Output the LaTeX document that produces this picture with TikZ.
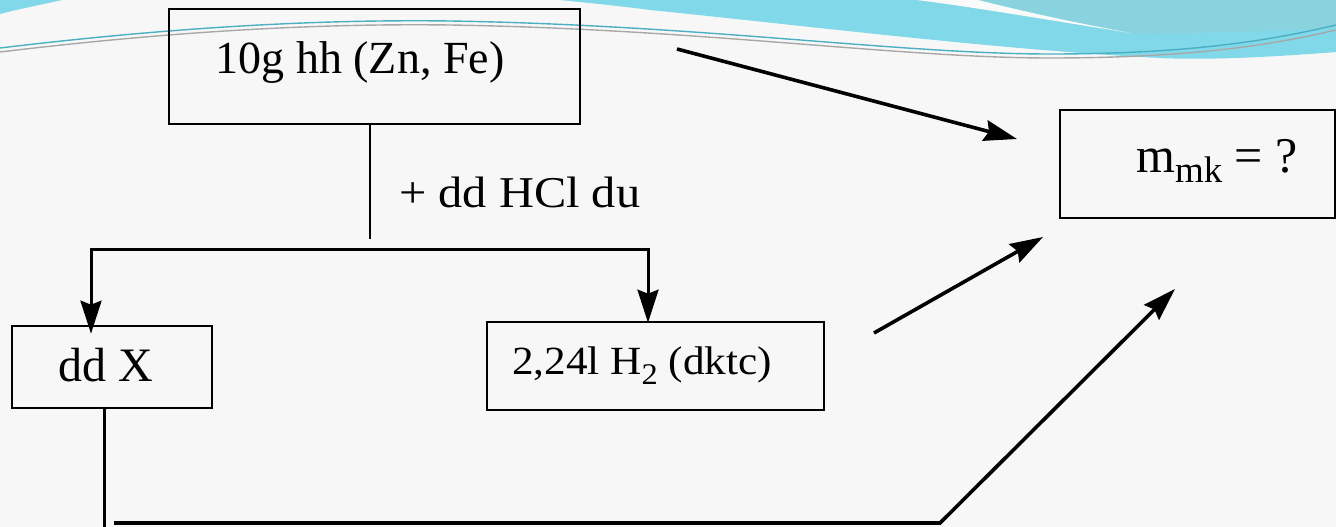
\documentclass[tikz,border=0pt]{standalone}
\usepackage{fontspec}
\setmainfont{Liberation Serif}
\usetikzlibrary{arrows.meta,calc}
\definecolor{bgc}{HTML}{F7F7F7}
\definecolor{cyanA}{HTML}{80D8E8}
\definecolor{cyanB}{HTML}{88D3DE}
\definecolor{tealline}{HTML}{4AAFC2}
\definecolor{greyline}{HTML}{A8A8A8}
\tikzset{
  box/.style={draw=black, line width=2.6pt, inner sep=0pt, fill=none},
  lbl/.style={inner sep=0pt, text=black},
  tipA/.tip={Stealth[length=33pt,width=21pt,inset=4pt]},
  arr/.style={line width=3.6pt, -tipA},
  barline/.style={line width=3pt},
}
\begin{document}
\begin{tikzpicture}[x=1pt,y=-1pt]
\useasboundingbox (0,0) rectangle (1336,527);
\fill[bgc] (0,0) rectangle (1336,527);
% decorative swoosh at the top
\fill[cyanA] (0,0) -- (62,0) .. controls (35,6) and (15,10) .. (0,14) -- cycle;
\fill[cyanA] (560,0) -- (1336,0) -- (1336,52) .. controls (1260,58) and (1200,60) .. (1160,58)
  .. controls (1000,50) and (800,25) .. (650,10) .. controls (620,6) and (590,3) .. (560,0) -- cycle;
\fill[cyanB] (978,0) -- (1336,0) -- (1336,28) .. controls (1250,32) and (1180,34) .. (1131,33)
  .. controls (1060,20) and (1010,8) .. (978,0) -- cycle;
\fill[bgc!60!white] (917,0) -- (978,0) .. controls (1010,8) and (1060,20) .. (1131,33)
  .. controls (1060,22) and (980,8) .. (917,0) -- cycle;
\draw[greyline, line width=1.4pt] (0,52) .. controls (150,34) and (300,23) .. (450,25)
  .. controls (700,29) and (900,58) .. (1050,58) .. controls (1200,58) and (1280,43) .. (1336,30);
\draw[tealline, line width=1.4pt] (0,48) .. controls (150,30) and (300,19) .. (450,21)
  .. controls (700,25) and (900,54) .. (1050,54) .. controls (1200,54) and (1280,38) .. (1336,25);

% boxes
\node[box, minimum width=411pt, minimum height=115pt] (top) at (374.5,66.5) {};
\node[lbl, anchor=base, font=\fontsize{46}{50}\selectfont] (toptxt) at (360,74) {10g hh (Zn, Fe)};

\node[box, minimum width=200pt, minimum height=82pt] (ddx) at (112,367) {};
\node[lbl, anchor=base, font=\fontsize{48}{52}\selectfont] (ddxtxt) at (106,381) {dd X};

\node[box, minimum width=337pt, minimum height=88pt] (h2) at (655.5,366) {};
\node[lbl, anchor=base] (h2txt) at (642,374)
  {\scalebox{1.08}[1]{\fontsize{40}{44}\selectfont 2,24l H\raisebox{-10pt}{\fontsize{30}{32}\selectfont 2} (dktc)}};

\node[box, minimum width=275pt, minimum height=108pt] (mk) at (1197.5,164) {};
\node[lbl, anchor=base west] (mktxt) at (1136,172)
  {\fontsize{50}{54}\selectfont m\raisebox{-10pt}{\fontsize{37}{40}\selectfont mk} = ?};

\node[lbl, anchor=base west] (hcl) at (399,207)
  {\scalebox{1.1}[1]{\fontsize{44}{48}\selectfont + dd HCl du}};

% connectors
\coordinate (s1) at (370,239);
\draw[line width=2pt] (top.south -| s1) -- (s1);

\coordinate (bl) at (91,249);
\coordinate (br) at (648,249);
\draw[barline, tipA-tipA] ($(ddx.north -| bl)+(0,9)$) -- (bl) -- (br) -- ($(h2.north -| br)+(0,2)$);

\coordinate (a1s) at (677,49);
\coordinate (a1e) at (1017,139);
\draw[arr] (a1s) -- (a1e);

\coordinate (a2s) at (874,333);
\coordinate (a2e) at (1043,237);
\draw[arr] (a2s) -- (a2e);

\coordinate (d1) at (104,530);
\draw[barline] (ddx.south -| d1) -- (d1);

\coordinate (b1) at (114,523);
\coordinate (b2) at (940,523);
\coordinate (b3) at (1175,289);
\draw[arr, line join=miter] (b1) -- (b2) -- (b3);
\end{tikzpicture}
\end{document}
